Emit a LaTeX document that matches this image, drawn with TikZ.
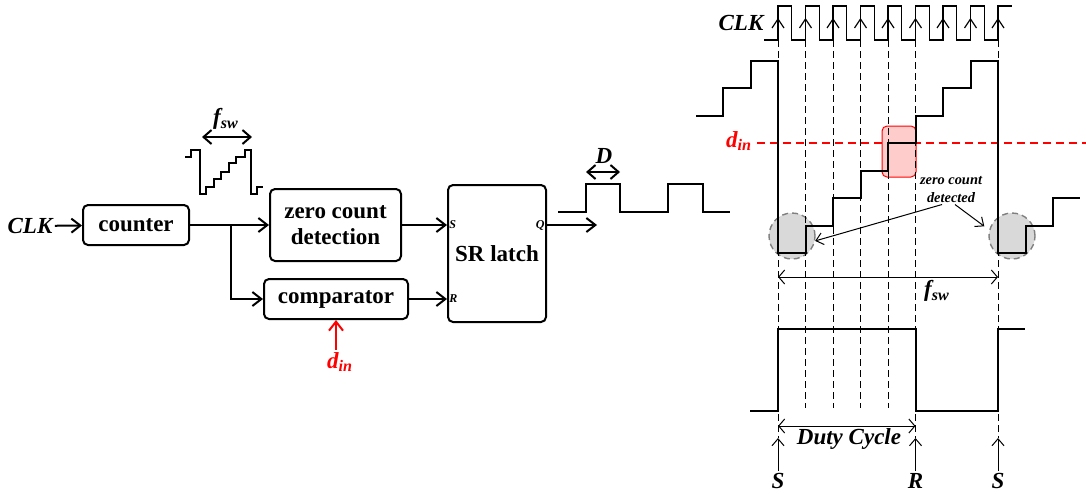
\documentclass[tikz,border=0pt]{standalone}
\usepackage{fontspec}
\setmainfont{Liberation Serif}
\usepackage{tikz}
\usetikzlibrary{arrows.meta,positioning,calc}

\begin{document}
\begin{tikzpicture}[
  x=0.5pt, y=-0.5pt,
  box/.style={
    draw,
    rounded corners=2.5pt,
    align=center,
    inner sep=0pt,
    line width=1pt,
    font=\fontsize{11.5}{13}\selectfont\bfseries
  },
  lbl/.style={font=\fontsize{11.5}{13}\selectfont\bfseries\itshape, inner sep=1pt},
  pinlbl/.style={font=\fontsize{6}{7}\selectfont\bfseries\itshape, inner sep=1pt},
  note/.style={font=\fontsize{7.2}{9}\selectfont\bfseries\itshape, align=center, inner sep=0.5pt},
  arrow/.style={-{Straight Barb[length=4.5pt,width=7pt]}, line width=1pt},
  thinarrow/.style={-{Straight Barb[length=3.5pt,width=6pt]}, line width=0.5pt},
  dimthick/.style={{Straight Barb[length=4pt,width=7pt]}-{Straight Barb[length=4pt,width=7pt]}, line width=1pt},
  dimthin/.style={{Straight Barb[length=3pt,width=7pt]}-{Straight Barb[length=3pt,width=7pt]}, line width=0.5pt},
  wave/.style={line width=1pt},
  clkwave/.style={line width=0.6pt},
  grid/.style={dashed, dash pattern=on 3.5pt off 2pt, line width=0.5pt},
  zcirc/.style={circle, draw=gray, fill=gray!30, dashed, dash pattern=on 3pt off 2pt, line width=0.7pt, minimum size=23pt, inner sep=0pt},
  dinline/.style={red, dash pattern=on 4pt off 2.5pt, line width=0.8pt}
]
  \useasboundingbox (0,0) rectangle (1086,493);

  % block diagram
  \node[lbl] (clk) at (30,226) {CLK};
  \node[box, minimum width=53pt, minimum height=20pt] (counter) at (136,225) {counter};
  \node[box, minimum width=65.5pt, minimum height=36pt] (zcd) at (335.5,225) {zero count\\detection};
  \node[box, minimum width=72pt, minimum height=20pt] (comp) at (336,299) {comparator};
  \node[box, minimum width=49pt, minimum height=68.5pt] (latch) at (497,253.5) {SR latch};
  \node[pinlbl, right] (sIn) at (zcd.east -| latch.west) {S};
  \node[pinlbl, right] (rIn) at (comp.east -| latch.west) {R};
  \node[pinlbl, left] (qOut) at (latch.east |- sIn) {Q};
  \node[lbl, red] (din) at (340,362) {d\textsubscript{in}};
  \coordinate (br) at (231,225);
  \coordinate (qEnd) at (597,225);

  \draw[arrow] (clk) -- (counter);
  \draw[wave] (counter.east) -- (br);
  \draw[arrow] (br) -- (br -| zcd.west);
  \draw[arrow] (br) |- (comp.west);
  \draw[arrow] (zcd.east) -- (zcd.east -| latch.west);
  \draw[arrow] (comp.east) -- (comp.east -| latch.west);
  \draw[arrow] (latch.east |- qOut) -- (qEnd);
  \draw[arrow, red] (comp.south |- din.north) -- (comp.south);

  % counter ramp
  \draw[wave] (185,157) -- (191,157) -- (191,150) -- (200,150) -- (200,194) -- (206,194)
    -- (206,187) -- (214,187) -- (214,179) -- (221,179) -- (221,172) -- (229,172)
    -- (229,163) -- (236,163) -- (236,157) -- (245,157) -- (245,150) -- (251,150)
    -- (251,194) -- (257,194) -- (257,187) -- (263,187);
  \coordinate (fswA) at (202,137);
  \coordinate (fswB) at (252,137);
  \draw[dimthick] (fswA) -- (fswB);
  \node[lbl] (fswL) at (226,119) {f\textsubscript{sw}};

  % output pulses
  \draw[wave] (558,212) -- (586,212) -- (586,184) -- (620,184) -- (620,212) -- (668,212)
    -- (668,184) -- (703,184) -- (703,212) -- (730,212);
  \coordinate (dA) at (586,172);
  \coordinate (dB) at (620,172);
  \draw[dimthick] (dA) -- (dB);
  \node[lbl] (dLbl) at (604,156) {D};

  % timing diagram
  \node[zcirc] (zcL) at (792,236) {};
  \node[zcirc] (zcR) at (1012,236) {};
  \draw[red, fill=red!20, rounded corners=2.5pt, line width=0.5pt] (882,126) rectangle (916,177);

  \node[lbl] (clkR) at (741,23) {CLK};
  \draw[clkwave] (764,40) foreach \i in {0,...,7} {
      -- ({778+27.5*\i},40) -- ++(0,-34) -- ++(13.75,0) -- ++(0,34) }
    -- (998,40) -- (998,6) -- (1012,6);
  \foreach \i in {0,...,8}
    \draw[clkwave] ({778+27.5*\i-6},28) -- ({778+27.5*\i},19) -- ({778+27.5*\i+6},28);

  \coordinate (tS1) at (778,438);
  \coordinate (tR) at (915.5,438);
  \coordinate (tS2) at (998,438);
  \draw[grid] (778,40) -- (tS1);
  \draw[grid] (915.5,40) -- (tR);
  \draw[grid] (998,40) -- (tS2);
  \foreach \x in {805.5,833,860.5,888}
    \draw[grid] (\x,40) -- (\x,408);

  \node[lbl, red] (dinR) at (739,141) {d\textsubscript{in}};
  \draw[dinline] (757,143) -- (1086,143);

  \draw[wave] (696,116) -- (723,116) -- (723,88) -- (750.5,88) -- (750.5,61) -- (778,61)
    -- (778,253) -- (805.5,253) -- (805.5,226) -- (833,226) -- (833,198) -- (860.5,198)
    -- (860.5,171) -- (888,171) -- (888,143) -- (915.5,143) -- (915.5,116) -- (943,116)
    -- (943,88) -- (970.5,88) -- (970.5,61) -- (998,61) -- (998,253) -- (1025.5,253)
    -- (1025.5,226) -- (1053,226) -- (1053,198) -- (1080,198);

  \node[note] (zcLbl) at (951,190) {zero count\\detected};
  \draw[thinarrow] ($(zcLbl.south)+(-9,0)$) -- (zcL.-12);
  \draw[thinarrow, shorten >=3pt] ($(zcLbl.south)+(4,0)$) -- (zcR.165);

  \coordinate (fA) at (778,277);
  \coordinate (fB) at (998,277);
  \draw[dimthin] (fA) -- (fB);
  \node[lbl] (fswR) at (937,291) {f\textsubscript{sw}};

  \draw[wave] (750,411) -- (778,411) -- (778,329) -- (915.5,329) -- (915.5,411) -- (998,411)
    -- (998,329) -- (1025,329);
  \coordinate (dcA) at (778,426);
  \coordinate (dcB) at (915.5,426);
  \draw[dimthin] (dcA) -- (dcB);
  \node[lbl] (dcLbl) at (849,439) {Duty Cycle};

  \node[lbl] (sA) at (778,481) {S};
  \node[lbl] (rA) at (915.5,481) {R};
  \node[lbl] (sB) at (998,481) {S};
  \draw[thinarrow] (sA) -- (tS1);
  \draw[thinarrow] (rA) -- (tR);
  \draw[thinarrow] (sB) -- (tS2);
\end{tikzpicture}
\end{document}
